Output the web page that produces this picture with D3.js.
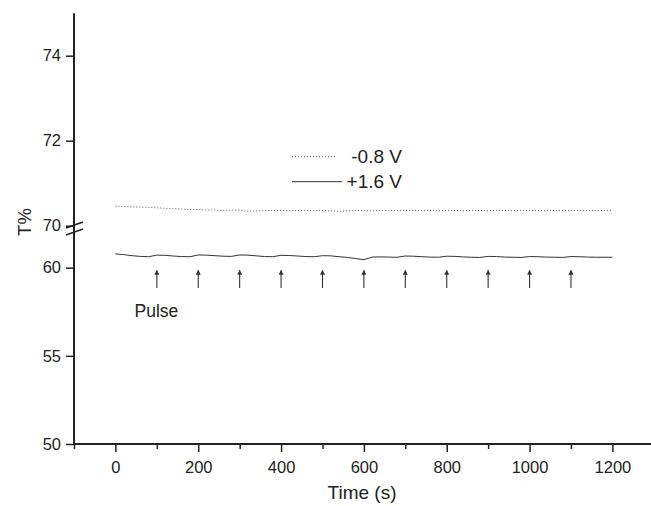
<!DOCTYPE html>
<html><head><meta charset="utf-8">
<script src="https://cdn.jsdelivr.net/npm/d3@7"></script>
<style>
html,body{margin:0;padding:0;background:#fff;}
svg{display:block;font-family:"Liberation Sans",Arial,Helvetica,sans-serif;}
</style></head>
<body><svg id="c" width="651" height="506"></svg>
<script>
const times = [0,20,40,60,80,100,120,140,160,180,200,220,240,260,280,300,320,340,360,380,
  400,420,440,460,480,500,520,540,560,580,600,620,640,660,680,700,720,740,760,780,
  800,820,840,860,880,900,920,940,960,980,1000,1020,1040,1060,1080,1100,1120,1140,1160,1180,1200];
const seriesNeg = [70.46,70.45,70.44,70.44,70.43,70.42,70.41,70.40,70.39,70.38,
  70.38,70.37,70.37,70.36,70.37,70.36,70.34,70.35,70.35,70.36,
  70.36,70.35,70.36,70.36,70.35,70.36,70.35,70.34,70.35,70.36,
  70.35,70.35,70.36,70.36,70.35,70.36,70.36,70.35,70.36,70.35,
  70.36,70.36,70.35,70.36,70.36,70.35,70.36,70.36,70.35,70.36,
  70.36,70.36,70.35,70.36,70.36,70.36,70.36,70.35,70.36,70.36,70.36];
const seriesPos = [60.78,60.74,60.68,60.64,60.62,60.71,60.70,60.66,60.63,60.62,
  60.72,60.71,60.68,60.65,60.64,60.72,60.71,60.67,60.63,60.62,
  60.70,60.69,60.66,60.63,60.62,60.68,60.67,60.62,60.58,60.52,
  60.45,60.60,60.61,60.60,60.59,60.66,60.65,60.62,60.60,60.59,
  60.65,60.64,60.61,60.59,60.58,60.64,60.63,60.60,60.59,60.58,
  60.63,60.62,60.60,60.59,60.58,60.63,60.62,60.60,60.59,60.59,60.59];
const seriesNames = ["-0.8 V","+1.6 V"];
const pulseTimes = [100,200,300,400,500,600,700,800,900,1000,1100];
const pulseTip = 59.85, pulseBase = 58.85;
const xMajorTicks = [0,200,400,600,800,1000,1200];
const xMinorTicks = [-100,100,300,500,700,900,1100];
const yUpperTicks = [70,72,74];
const yLowerTicks = [50,55,60];

const svg = d3.select("#c");
const ink = "#222";
const x = d3.scaleLinear().domain([-100,1300]).range([74,653.8]);
const yUp = d3.scaleLinear().domain([70,75]).range([225.7,13.2]);
const yLo = d3.scaleLinear().domain([50,62]).range([444,232.4]);

// data lines
const lineUp = d3.line().x((d,i)=>x(times[i])).y(d=>yUp(d));
const lineLo = d3.line().x((d,i)=>x(times[i])).y(d=>yLo(d));
svg.append("path").attr("d",lineUp(seriesNeg)).attr("fill","none")
  .attr("stroke","#555").attr("stroke-width",1).attr("stroke-dasharray","1,2");
svg.append("path").attr("d",lineLo(seriesPos)).attr("fill","none")
  .attr("stroke","#333").attr("stroke-width",1);

// axes
function styleAxis(g,fs){
  g.select(".domain").remove();
  g.selectAll("line").attr("stroke",ink).attr("stroke-width",1.5);
  g.selectAll("text").attr("fill",ink).style("font-size",fs+"px").style("font-family","'Liberation Sans',Arial,sans-serif");
}
const gx = svg.append("g").attr("transform","translate(0,444)")
  .call(d3.axisBottom(x).tickValues(xMajorTicks).tickSize(8).tickPadding(9).tickFormat(d3.format("d")));
styleAxis(gx,16.5);
const gxm = svg.append("g").attr("transform","translate(0,444)")
  .call(d3.axisBottom(x).tickValues(xMinorTicks).tickSize(5).tickFormat(""));
styleAxis(gxm,16.5);
const gyu = svg.append("g").attr("transform","translate(74,0)")
  .call(d3.axisLeft(yUp).tickValues(yUpperTicks).tickSize(8).tickPadding(5).tickFormat(d3.format("d")));
styleAxis(gyu,16.5);
const gyl = svg.append("g").attr("transform","translate(74,0)")
  .call(d3.axisLeft(yLo).tickValues(yLowerTicks).tickSize(8).tickPadding(5).tickFormat(d3.format("d")));
styleAxis(gyl,16.5);

// axis lines
svg.append("line").attr("x1",74).attr("x2",74).attr("y1",yUp(75)).attr("y2",445)
  .attr("stroke",ink).attr("stroke-width",2);
svg.append("line").attr("x1",73).attr("x2",651).attr("y1",444).attr("y2",444)
  .attr("stroke",ink).attr("stroke-width",2);

// break marks
[0,7].forEach(off=>{
  svg.append("line").attr("x1",66).attr("y1",228+off).attr("x2",83).attr("y2",222+off)
    .attr("stroke",ink).attr("stroke-width",1.6);
});

// axis titles
svg.append("text").attr("x",362).attr("y",499).attr("text-anchor","middle")
  .attr("fill",ink).style("font-size","19px").text("Time (s)");
svg.append("text").attr("transform","translate(31,222) rotate(-90)").attr("text-anchor","middle")
  .attr("fill",ink).style("font-size","18.5px").text("T%");

// legend
svg.append("line").attr("x1",292).attr("x2",335).attr("y1",156.7).attr("y2",156.7)
  .attr("stroke","#555").attr("stroke-width",1).attr("stroke-dasharray","1,2");
svg.append("line").attr("x1",292).attr("x2",342).attr("y1",181.7).attr("y2",181.7)
  .attr("stroke","#333").attr("stroke-width",1);
svg.append("text").attr("x",402).attr("y",163).attr("text-anchor","end")
  .attr("fill",ink).style("font-size","19px").text(seriesNames[0]);
svg.append("text").attr("x",402).attr("y",188).attr("text-anchor","end")
  .attr("fill",ink).style("font-size","19px").text(seriesNames[1]);

// pulse arrows
const defs = svg.append("defs");
defs.append("marker").attr("id","ah").attr("viewBox","0 0 10 10").attr("refX",9).attr("refY",5)
  .attr("markerWidth",5).attr("markerHeight",5).attr("orient","auto").attr("markerUnits","userSpaceOnUse")
  .append("path").attr("d","M0,0 L10,5 L0,10 Z").attr("fill","#333");
svg.selectAll("line.pulse").data(pulseTimes).enter().append("line").attr("class","pulse")
  .attr("x1",d=>x(d)).attr("x2",d=>x(d)).attr("y1",yLo(pulseBase)).attr("y2",yLo(pulseTip))
  .attr("stroke","#333").attr("stroke-width",1.1).attr("marker-end","url(#ah)");
svg.append("text").attr("x",134.5).attr("y",317).attr("fill",ink).style("font-size","17.5px").text("Pulse");
</script></body></html>
